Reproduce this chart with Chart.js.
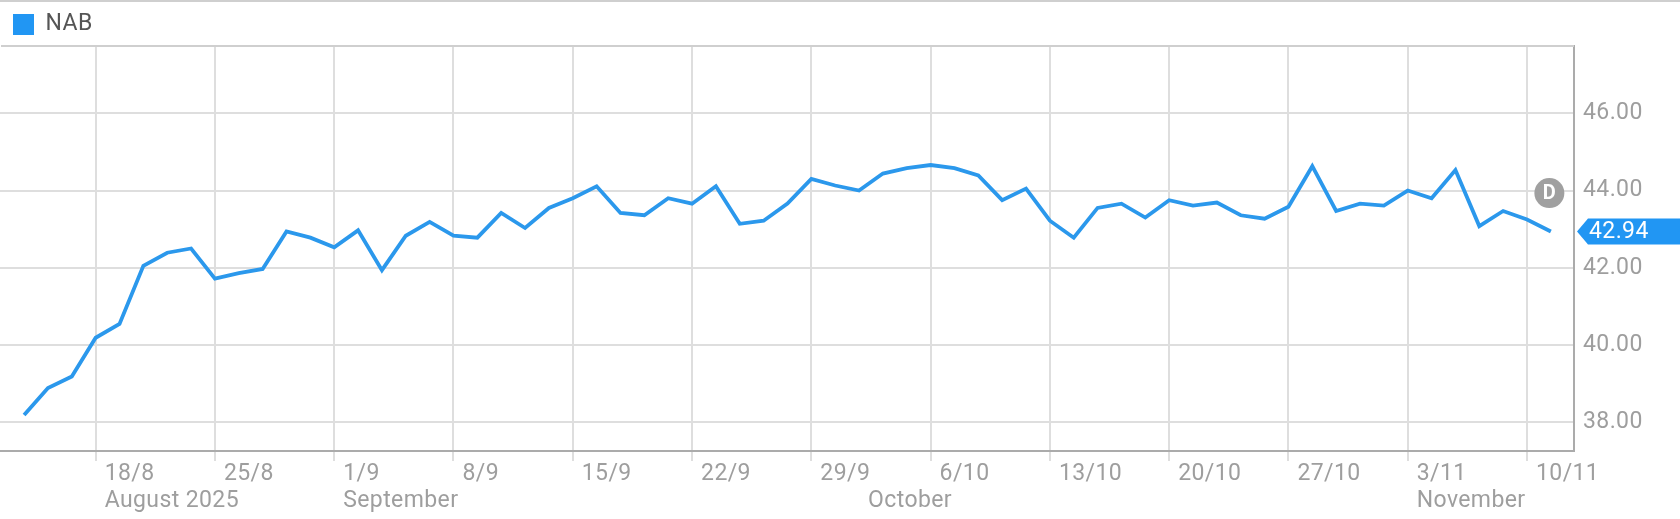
<!DOCTYPE html>
<html><head><meta charset="utf-8">
<style>html,body{margin:0;padding:0;background:#fff;overflow:hidden}canvas{display:block}</style>
<script src="https://cdn.jsdelivr.net/npm/chart.js@4"></script>
</head><body><canvas id="c" width="1680" height="519"></canvas>
<script>
const seriesName = 'NAB';
const days = ['13/8','14/8','15/8','18/8','19/8','20/8','21/8','22/8','25/8','26/8','27/8','28/8','29/8','1/9','2/9','3/9','4/9','5/9','8/9','9/9','10/9','11/9','12/9','15/9','16/9','17/9','18/9','19/9','22/9','23/9','24/9','25/9','26/9','29/9','30/9','1/10','2/10','3/10','6/10','7/10','8/10','9/10','10/10','13/10','14/10','15/10','16/10','17/10','20/10','21/10','22/10','23/10','24/10','27/10','28/10','29/10','30/10','31/10','3/11','4/11','5/11','6/11','7/11','10/11','11/11'];
const prices = [38.19,38.89,39.19,40.19,40.55,42.05,42.39,42.50,41.72,41.86,41.97,42.94,42.78,42.53,42.97,41.94,42.83,43.19,42.83,42.78,43.42,43.03,43.55,43.80,44.11,43.42,43.36,43.80,43.66,44.11,43.14,43.22,43.66,44.30,44.13,44.00,44.44,44.58,44.66,44.58,44.39,43.75,44.05,43.22,42.78,43.55,43.66,43.30,43.75,43.61,43.69,43.36,43.27,43.58,44.63,43.47,43.66,43.61,44.00,43.80,44.53,43.08,43.47,43.25,42.94];
const weekTicks = ['18/8','25/8','1/9','8/9','15/9','22/9','29/9','6/10','13/10','20/10','27/10','3/11','10/11'];
const monthDays = ['18/8','1/9','1/10','3/11'];
const monthNames = ['August 2025','September','October','November'];
const yTicks = [38,40,42,44,46];
const lastPrice = 42.94;

const FONT = 'Roboto';
const BLUE = '#2b98ec', GRID = '#dedede', AXIS = '#ababab', TXT = '#9e9e9e';
const xMin = -1.01, xMax = 64.97;
const SPACING = '0.4px';

const overlay = {
  id:'overlay',
  beforeDraw(ch){ ch.ctx.letterSpacing = SPACING; },
  beforeDatasetsDraw(ch){
    const {ctx,chartArea:a} = ch;
    ctx.save();
    ctx.strokeStyle = '#cfcfcf'; ctx.lineWidth = 2;
    ctx.beginPath(); ctx.moveTo(1,a.top); ctx.lineTo(a.right,a.top);
    ctx.moveTo(0,1); ctx.lineTo(1680,1); ctx.stroke();
    ctx.restore();
  },
  afterDraw(ch){
    const {ctx,chartArea:a,scales} = ch;
    const y = scales.y.getPixelForValue(lastPrice);
    ctx.save();
    ctx.fillStyle = '#2196f3';
    ctx.beginPath();
    ctx.moveTo(a.right+3,y);ctx.lineTo(a.right+14,y-13);ctx.lineTo(1680,y-13);ctx.lineTo(1680,y+13);ctx.lineTo(a.right+14,y+13);ctx.closePath();ctx.fill();
    ctx.fillStyle='#fff';ctx.font='23px '+FONT;ctx.textBaseline='middle';ctx.textAlign='left';
    ctx.fillText(lastPrice.toFixed(2),a.right+15,y+1);
    const bx=scales.x.getPixelForValue(64)-1.5, by=scales.y.getPixelForValue(44)+2.5;
    ctx.fillStyle='#a0a0a0';ctx.beginPath();ctx.arc(bx,by,15,0,Math.PI*2);ctx.fill();
    ctx.letterSpacing='0px';
    ctx.fillStyle='#fff';ctx.font='bold 20px '+FONT;ctx.textAlign='center';ctx.fillText('D',bx,by+1);
    ctx.restore();
  }
};

new Chart(document.getElementById('c'),{
  type:'line',
  data:{datasets:[{label:seriesName,data:prices.map((v,i)=>({x:i,y:v})),borderColor:BLUE,backgroundColor:'#2196f3',borderWidth:3.8,pointRadius:0,tension:0,borderJoinStyle:'miter',xAxisID:'x',yAxisID:'y'}]},
  options:{
    responsive:false,animation:false,
    layout:{padding:0},
    plugins:{
      tooltip:{enabled:false},
      legend:{display:true,position:'top',align:'start',
        labels:{boxWidth:21,boxHeight:21,padding:13,color:'#555',font:{family:FONT,size:23},
          generateLabels:c=>[{text:seriesName,fillStyle:'#2196f3',strokeStyle:'#2196f3',lineWidth:0,datasetIndex:0,fontColor:'#555'}]}}
    },
    scales:{
      x:{type:'linear',position:'bottom',min:xMin,max:xMax,
        grid:{color:GRID,lineWidth:2,tickLength:10,drawTicks:true,tickColor:GRID},
        border:{color:AXIS,width:2},
        afterBuildTicks:s=>{s.ticks=weekTicks.map(d=>({value:days.indexOf(d)}));},
        afterFit:s=>{s.height=38;},
        ticks:{autoSkip:false,maxRotation:0,minRotation:0,align:'start',labelOffset:9,padding:-1,color:TXT,font:{family:FONT,size:23},
          callback:v=>days[v]}},
      x2:{type:'linear',position:'bottom',min:xMin,max:xMax,
        grid:{display:false,drawTicks:false},border:{display:false},
        afterBuildTicks:s=>{s.ticks=monthDays.map(d=>({value:days.indexOf(d)}));},
        afterFit:s=>{s.height=30;},
        ticks:{autoSkip:false,maxRotation:0,minRotation:0,align:'start',labelOffset:9,padding:-2,color:TXT,font:{family:FONT,size:23},
          callback:v=>monthNames[monthDays.indexOf(days[v])]}},
      y:{type:'linear',position:'right',min:37.26,max:47.74,
        grid:{color:GRID,lineWidth:2,drawTicks:false},
        border:{color:AXIS,width:2},
        afterBuildTicks:s=>{s.ticks=yTicks.map(v=>({value:v}));},
        afterFit:s=>{s.width=106;},
        ticks:{padding:9,color:TXT,font:{family:FONT,size:23},callback:v=>v.toFixed(2)}}
    }
  },
  plugins:[overlay]
});
</script></body></html>
